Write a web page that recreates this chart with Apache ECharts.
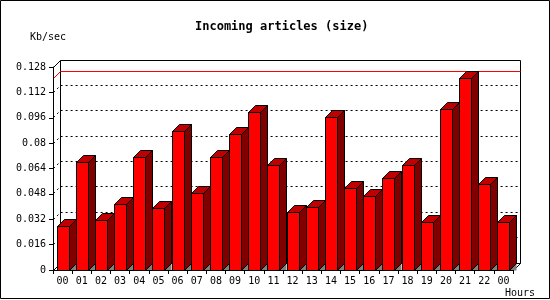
<!DOCTYPE html>
<html><head><meta charset="utf-8">
<script src="https://cdn.jsdelivr.net/npm/echarts@6/dist/echarts.min.js"></script>
<style>html,body{margin:0;padding:0;background:#fff}#c{width:550px;height:300px}</style>
</head><body><div id="c"></div>
<script>
const hours = ['00','01','02','03','04','05','06','07','08','09','10','11','12','13','14','15','16','17','18','19','20','21','22','00'];
const kbPerSec = [0.0276,0.0683,0.0314,0.0415,0.0712,0.0390,0.0877,0.0485,0.0712,0.0858,0.0997,0.0664,0.0365,0.0400,0.0965,0.0516,0.0466,0.0577,0.0662,0.0301,0.1016,0.1208,0.0544,0.0301];
const yTicks = [0,0.016,0.032,0.048,0.064,0.08,0.096,0.112,0.128];
const yTickLabels = ['0','0.016','0.032','0.048','0.064','0.08','0.096','0.112','0.128'];
const chartTitle = 'Incoming articles (size)';
const yUnit = 'Kb/sec';
const xUnit = 'Hours';

const DEPTH = 7;
const FONT = 'DejaVu Sans Mono';
const c = v => Math.floor(v) + 0.5;

function line(points, color, dash) {
  return {type:'polyline', shape:{points:points.map(p=>[c(p[0]), c(p[1])])},
    style:{stroke:color, lineWidth:1, fill:'none', lineDash:dash||null}};
}

function frameItem(params, api) {
  const cs = params.coordSys;
  const L = cs.x, T = cs.y, R = cs.x + cs.width, B = cs.y + cs.height, d = DEPTH;
  return {type:'group', children:[
    line([[L+d, B-d],[R+d, B-d]], '#000'),
    line([[L+d, T-d],[L+d, B-d]], '#000'),
    line([[L, T],[L+d, T-d],[R+d, T-d],[R+d, B-d]], '#000'),
    line([[L, B],[L+d, B-d]], '#000'),
    line([[R, B],[R+d, B-d]], '#000')
  ]};
}

function gridItem(params, api) {
  const cs = params.coordSys;
  const L = cs.x, R = cs.x + cs.width, d = DEPTH;
  const y = api.coord([0, api.value(1)])[1];
  return line([[L, y],[L+d, y-d],[R+d, y-d]], '#000', [2,3]);
}

function maxItem(params, api) {
  const cs = params.coordSys;
  const L = cs.x, R = cs.x + cs.width, d = DEPTH;
  const y = api.coord([0, api.value(1)])[1];
  return {type:'group', children:[
    {type:'line', shape:{x1:c(L), y1:c(y), x2:c(L+d), y2:c(y-d)}, style:{stroke:'#ff0000', lineWidth:1}},
    {type:'line', shape:{x1:c(L+d), y1:c(y-d), x2:c(R+d), y2:c(y-d)}, style:{stroke:'#ff0000', lineWidth:1}}
  ]};
}

function barItem(params, api) {
  const idx = api.value(0), v = api.value(1);
  const top = api.coord([idx, v]), base = api.coord([idx, 0]);
  const w = 12, d = DEPTH;
  const x0 = Math.round(top[0] - w/2) + 0.5, x1 = x0 + w;
  const yt = Math.round(top[1]) + 0.5, yb = Math.round(base[1]) + 0.5;
  return {type:'group', children:[
    {type:'polygon', shape:{points:[[x1,yb],[x1+d,yb-d],[x1+d,yb]]}, style:{fill:'#808080', stroke:'none'}},
    {type:'polygon', shape:{points:[[x1,yt],[x1+d,yt-d],[x1+d,yb-d],[x1,yb]]}, style:{fill:'#800000', stroke:'#000', lineWidth:1}},
    {type:'polygon', shape:{points:[[x0,yt],[x0+d,yt-d],[x1+d,yt-d],[x1,yt]]}, style:{fill:'#c00000', stroke:'#000', lineWidth:1}},
    {type:'rect', shape:{x:x0, y:yt, width:w, height:yb-yt}, style:{fill:'#ff0000', stroke:'#000', lineWidth:1}}
  ]};
}

const chart = echarts.init(document.getElementById('c'), null, {renderer:'canvas'});
chart.setOption({
  animation:false,
  backgroundColor:'#fff',
  title:{text:chartTitle, left:190, top:16, textStyle:{fontFamily:FONT, fontWeight:'bold', fontSize:12, color:'#000'}},
  grid:{left:53, right:37, top:67, bottom:30, containLabel:false},
  xAxis:{type:'category', data:hours, boundaryGap:true, z:10,
    axisLine:{show:true, lineStyle:{color:'#000', width:1}},
    axisTick:{show:true, length:4, interval:0, alignWithLabel:false, lineStyle:{color:'#000'}},
    axisLabel:{interval:0, margin:6, fontFamily:FONT, fontSize:10, color:'#000'},
    splitLine:{show:false}},
  yAxis:{type:'value', min:0, max:0.128, interval:0.016, z:10,
    axisLine:{show:true, lineStyle:{color:'#000', width:1}},
    axisTick:{show:true, length:4, lineStyle:{color:'#000'}},
    axisLabel:{margin:7, fontFamily:FONT, fontSize:10, color:'#000',
      formatter:v=>{const i=yTicks.findIndex(t=>Math.abs(t-v)<1e-9); return i>=0?yTickLabels[i]:'';}},
    splitLine:{show:false}},
  graphic:[
    {type:'rect', shape:{x:0.5, y:0.5, width:549, height:298}, style:{fill:'none', stroke:'#000', lineWidth:1}, z:100},
    {type:'text', x:30, y:37, style:{text:yUnit, fontFamily:FONT, fontSize:10, fill:'#000', textVerticalAlign:'middle'}},
    {type:'text', x:505, y:293, style:{text:xUnit, fontFamily:FONT, fontSize:10, fill:'#000', textVerticalAlign:'middle'}}
  ],
  series:[
    {type:'custom', name:'frame', renderItem:frameItem, data:[[0,0]], encode:{x:0,y:1}, z:1, silent:true},
    {type:'custom', name:'grid', renderItem:gridItem, data:yTicks.slice(1,-1).map(v=>[0,v]), encode:{x:0,y:1}, z:1, silent:true},
    {type:'custom', name:'max', renderItem:maxItem, data:[[0, Math.max(...kbPerSec)]], encode:{x:0,y:1}, z:2, silent:true},
    {type:'custom', name:'bars', renderItem:barItem, data:kbPerSec.map((v,i)=>[i,v]), encode:{x:0,y:1}, z:3}
  ]
});
</script>
</body></html>
